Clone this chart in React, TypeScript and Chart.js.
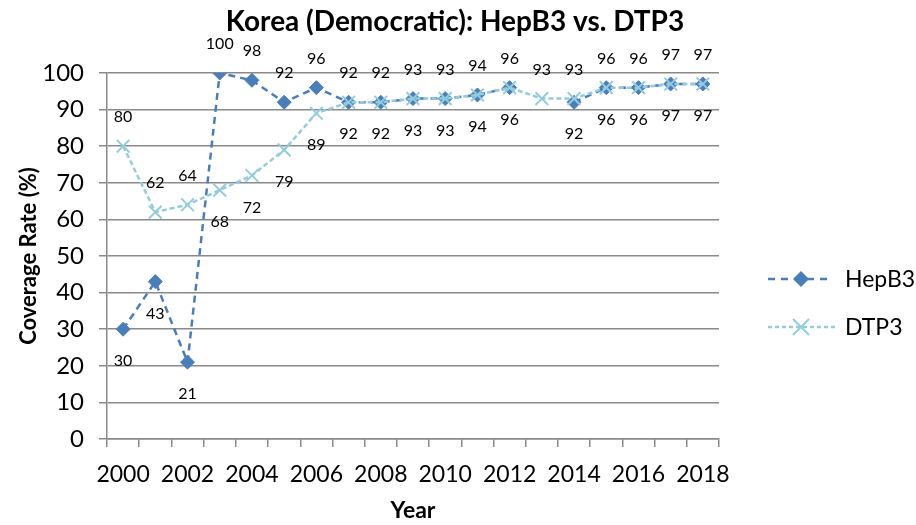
import React, { useEffect, useRef } from "react";
import { Chart, registerables } from "chart.js";

Chart.register(...registerables);

const years = ["2000","2001","2002","2003","2004","2005","2006","2007","2008","2009","2010","2011","2012","2013","2014","2015","2016","2017","2018"];
const hepB3: (number | null)[] = [30, 43, 21, 100, 98, 92, 96, 92, 92, 93, 93, 94, 96, null, 92, 96, 96, 97, 97];
const dtp3: (number | null)[] = [80, 62, 64, 68, 72, 79, 89, 92, 92, 93, 93, 94, 96, 93, 93, 96, 96, 97, 97];
const yTicks = [0, 10, 20, 30, 40, 50, 60, 70, 80, 90, 100];
const titleText = "Korea (Democratic): HepB3 vs. DTP3";

const HEP_COLOR = "#4A7EBB";
const DTP_COLOR = "#93CDDD";
const GRID = "#8a8a8a";
const FONT = "Lato, 'Open Sans', sans-serif";

const titlePlugin = {
  id: "customTitle",
  afterDraw(chart: any) {
    const ctx = chart.ctx;
    ctx.save();
    ctx.font = `bold 28px ${FONT}`;
    ctx.fillStyle = "#000";
    ctx.textAlign = "center";
    ctx.textBaseline = "alphabetic";
    ctx.fillText(titleText, 455, 31);
    ctx.restore();
  },
};

const labelPlugin = {
  id: "dataLabels",
  afterDatasetsDraw(chart: any) {
    const ctx = chart.ctx;
    const m0 = chart.getDatasetMeta(0);
    const m1 = chart.getDatasetMeta(1);
    ctx.save();
    ctx.font = `16px ${FONT}`;
    ctx.fillStyle = "#000";
    ctx.textAlign = "center";
    ctx.textBaseline = "middle";
    for (let i = 0; i < years.length; i++) {
      const h = hepB3[i];
      const d = dtp3[i];
      const ph = m0.data[i];
      const pd = m1.data[i];
      const items: { v: number; x: number; y: number; up: boolean }[] = [];
      if (h == null && d != null) {
        items.push({ v: d, x: pd.x, y: pd.y, up: true });
      } else if (d == null && h != null) {
        items.push({ v: h, x: ph.x, y: ph.y, up: true });
      } else if (h != null && d != null) {
        if (h >= d) {
          items.push({ v: h, x: ph.x, y: ph.y, up: true });
          items.push({ v: d, x: pd.x, y: pd.y, up: false });
        } else {
          items.push({ v: d, x: pd.x, y: pd.y, up: true });
          items.push({ v: h, x: ph.x, y: ph.y, up: false });
        }
      }
      for (const it of items) {
        ctx.fillText(String(it.v), it.x, it.up ? it.y - 29 : it.y + 32);
      }
    }
    ctx.restore();
  },
};

const legendPlugin = {
  id: "customLegend",
  afterDraw(chart: any) {
    const ctx = chart.ctx;
    ctx.save();
    const entries = [
      { label: chart.data.datasets[0].label, color: HEP_COLOR, dash: [7, 6], y: 279, marker: "diamond", x1: 768, x2: 832 },
      { label: chart.data.datasets[1].label, color: DTP_COLOR, dash: [4, 3], y: 327, marker: "cross", x1: 768, x2: 837 },
    ];
    for (const e of entries) {
      ctx.strokeStyle = e.color;
      ctx.lineWidth = 2.5;
      ctx.setLineDash(e.dash);
      ctx.beginPath();
      ctx.moveTo(e.x1, e.y);
      ctx.lineTo(e.x2, e.y);
      ctx.stroke();
      ctx.setLineDash([]);
      const cx = 801;
      if (e.marker === "diamond") {
        ctx.fillStyle = e.color;
        ctx.beginPath();
        ctx.moveTo(cx, e.y - 8);
        ctx.lineTo(cx + 8, e.y);
        ctx.lineTo(cx, e.y + 8);
        ctx.lineTo(cx - 8, e.y);
        ctx.closePath();
        ctx.fill();
      } else {
        ctx.lineWidth = 2;
        const r = 8;
        ctx.beginPath();
        ctx.moveTo(cx - r, e.y - r);
        ctx.lineTo(cx + r, e.y + r);
        ctx.moveTo(cx + r, e.y - r);
        ctx.lineTo(cx - r, e.y + r);
        ctx.stroke();
      }
      ctx.fillStyle = "#000";
      ctx.font = `23px ${FONT}`;
      ctx.textAlign = "left";
      ctx.textBaseline = "middle";
      ctx.fillText(e.label, 845, e.y + 1);
    }
    ctx.restore();
  },
};

export default function App() {
  const ref = useRef<HTMLCanvasElement | null>(null);
  useEffect(() => {
    document.body.style.margin = "0";
    if (!ref.current) return;
    const chart = new Chart(ref.current, {
      type: "line",
      data: {
        labels: years,
        datasets: [
          {
            label: "HepB3",
            data: hepB3,
            borderColor: HEP_COLOR,
            backgroundColor: HEP_COLOR,
            borderWidth: 2.5,
            borderDash: [7, 5],
            pointStyle: "rectRot",
            pointRadius: 7,
            pointBackgroundColor: HEP_COLOR,
            pointBorderColor: HEP_COLOR,
            pointBorderWidth: 1,
            tension: 0,
            spanGaps: false,
            order: 1,
          },
          {
            label: "DTP3",
            data: dtp3,
            borderColor: DTP_COLOR,
            backgroundColor: DTP_COLOR,
            borderWidth: 2.5,
            borderDash: [5, 3],
            pointStyle: "crossRot",
            pointRadius: 9,
            pointBorderColor: DTP_COLOR,
            pointBorderWidth: 2,
            tension: 0,
            order: 0,
          },
        ],
      },
      options: {
        responsive: true,
        maintainAspectRatio: false,
        animation: false,
        layout: { padding: { left: 0, right: 197, top: 73, bottom: 0 } },
        plugins: {
          legend: { display: false },
          tooltip: { enabled: false },
          title: { display: false },
        },
        scales: {
          x: {
            type: "category",
            offset: true,
            grid: {
              display: true,
              drawOnChartArea: false,
              drawTicks: true,
              tickLength: 8,
              color: GRID,
              lineWidth: 1.5,
              offset: true,
            },
            border: { display: true, color: GRID, width: 1.5 },
            ticks: {
              autoSkip: false,
              maxRotation: 0,
              minRotation: 0,
              color: "#000",
              padding: 14,
              font: { family: FONT, size: 23 },
              callback: (_v: any, i: number) => (i % 2 === 0 ? years[i] : ""),
            },
            title: {
              display: true,
              text: "Year",
              color: "#000",
              font: { family: FONT, size: 23, weight: "bold" },
              padding: { top: 0, bottom: 1 },
            },
            afterFit: (scale: any) => {
              scale.height = 86;
            },
          },
          y: {
            min: 0,
            max: 100,
            afterBuildTicks: (scale: any) => {
              scale.ticks = yTicks.map((v) => ({ value: v }));
            },
            grid: {
              color: GRID,
              lineWidth: 1.5,
              tickLength: 8,
              drawTicks: true,
            },
            border: { display: true, color: GRID, width: 1.5 },
            ticks: {
              color: "#000",
              padding: 15,
              font: { family: FONT, size: 24 },
            },
            title: {
              display: true,
              text: "Coverage Rate (%)",
              color: "#000",
              font: { family: FONT, size: 22, weight: "bold" },
              padding: { top: 16, bottom: 0 },
            },
            afterFit: (scale: any) => {
              scale.width = 107;
            },
          },
        },
      },
      plugins: [labelPlugin, legendPlugin, titlePlugin],
    });
    return () => chart.destroy();
  }, []);
  return (
    <div style={{ position: "absolute", left: 0, top: 0, width: 916, height: 525 }}>
      <canvas ref={ref} />
    </div>
  );
}
